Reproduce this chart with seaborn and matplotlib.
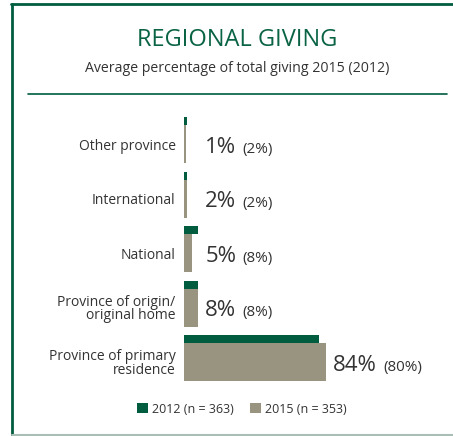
import matplotlib
matplotlib.use('Agg')
import matplotlib.pyplot as plt
from matplotlib.lines import Line2D
import seaborn as sns
import pandas as pd
import numpy as np

# Data
categories = ['Other province', 'International', 'National',
              'Province of origin/\noriginal home', 'Province of primary\nresidence']
values_2012 = [2, 2, 8, 8, 80]
values_2015 = [1, 2, 5, 8, 84]
legend_labels = ['2012 (n = 363)', '2015 (n = 353)']

GREEN = '#005c3f'
GREY = '#98947f'
TEXT = '#333333'

sns.set_style('white')
plt.rcParams['font.family'] = ['Open Sans', 'DejaVu Sans']

W, H = 453, 436
fig = plt.figure(figsize=(W / 100, H / 100), dpi=100)

# axes placed in pixel terms: x=0 at 184px, 1.69 px per %, rows 54.5 px apart
row_px = 54.5
y0_px = 144
left = 184 / W
width = 169 / W
top_px = y0_px - 0.6 * row_px
bot_px = y0_px + 4.6 * row_px
ax = fig.add_axes([left, 1 - bot_px / H, width, (bot_px - top_px) / H])

pos = np.arange(len(categories))
df15 = pd.DataFrame({'pos': pos.astype(float), 'val': values_2015})
df12 = pd.DataFrame({'pos': pos - 23 / row_px, 'val': values_2012})

sns.barplot(data=df15, x='val', y='pos', orient='y', native_scale=True,
            width=38 / row_px, color=GREY, saturation=1, linewidth=0, ax=ax,
            label=legend_labels[1])
sns.barplot(data=df12, x='val', y='pos', orient='y', native_scale=True,
            width=8 / row_px, color=GREEN, saturation=1, linewidth=0, ax=ax,
            label=legend_labels[0])

ax.set_xlim(0, 100)
ax.set_ylim(4.6, -0.6)
ax.set_xticks([])
ax.set_yticks(pos)
ax.set_yticklabels(categories, fontsize=10, color=TEXT, linespacing=0.9)
ax.tick_params(axis='y', length=0, pad=6)
ax.set_xlabel('')
ax.set_ylabel('')
sns.despine(ax=ax, left=True, bottom=True)
ax.patch.set_alpha(0)

# value labels: 2015 big, 2012 small in brackets
for i, (v15, v12) in enumerate(zip(values_2015, values_2012)):
    xt = max(v15 + 4.2, 12.6)
    yb = i + 8.5 / row_px
    big = ax.text(xt, yb, f'{v15}%', fontsize=16, color=TEXT, va='baseline', ha='left')
    ax.annotate(f'({v12}%)', xy=(1, yb), xycoords=(big, 'data'), xytext=(4.5, 0),
                textcoords='offset points', fontsize=11, color=TEXT, va='baseline', ha='left')

# title block
fig.text(237.5 / W, 1 - 40 / H, 'REGIONAL GIVING', fontsize=17, color='#0a6444',
         ha='center', va='center')
fig.text(237 / W, 1 - 68 / H, 'Average percentage of total giving 2015 (2012)', fontsize=10.2,
         color=TEXT, ha='center', va='center')
fig.add_artist(Line2D([28 / W, 447 / W], [1 - 94 / H, 1 - 94 / H], color=GREEN, lw=1.2,
                      transform=fig.transFigure))

# frame
fig.add_artist(Line2D([12 / W, 12 / W], [1 - 4 / H, 0], color=GREEN, lw=2,
                      transform=fig.transFigure))
fig.add_artist(Line2D([11 / W, 1], [1 - 4.5 / H, 1 - 4.5 / H], color=GREEN, lw=2,
                      transform=fig.transFigure))
fig.add_artist(Line2D([12 / W, 1], [1 - 435 / H, 1 - 435 / H], color='#a9bfb6', lw=1.5,
                      transform=fig.transFigure))

# legend
handles, labels = ax.get_legend_handles_labels()
order = [labels.index(l) for l in legend_labels]
fig.legend([handles[k] for k in order], [labels[k] for k in order],
           loc='center', bbox_to_anchor=(241.5 / W, 1 - 409 / H), ncol=2, frameon=False,
           fontsize=9, handlelength=0.9, handleheight=0.9, handletextpad=0.3,
           columnspacing=1.3, labelcolor=TEXT)
if ax.get_legend() is not None:
    ax.get_legend().remove()

fig.savefig('out.png', dpi=100)
